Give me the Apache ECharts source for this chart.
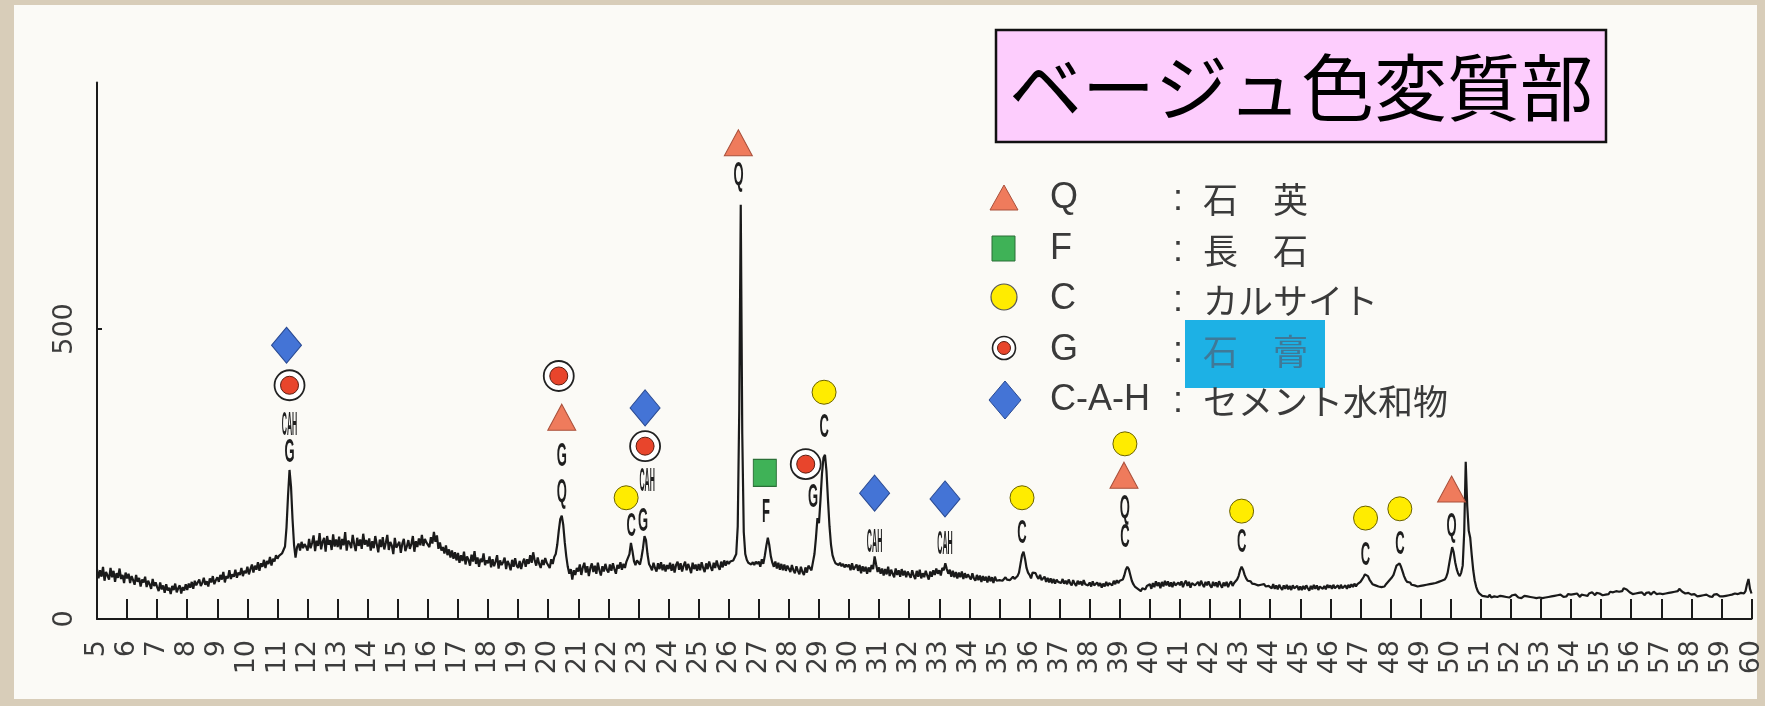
<!DOCTYPE html>
<html>
<head>
<meta charset="utf-8">
<script src="https://cdn.jsdelivr.net/npm/echarts@6/dist/echarts.min.js"></script>
<style>
  html, body { margin: 0; padding: 0; background: #d8cdb9; }
  #chart { width: 1765px; height: 706px; }
</style>
</head>
<body>
<div id="chart"></div>
<script>
// XRD pattern, beige altered part. Scan from 5 to 60 deg 2-theta, 0.05 deg step.
const SCAN_START = 5;
const SCAN_STEP = 0.05;

// Counts, one row per degree (20 readings each), last value at 60 deg.
const intensity = [
  86,70,84,73,90,66,81,75,68,88,72,83,64,79,71,87,69,76,62,80,
  70,78,62,74,67,59,76,64,71,56,68,63,73,55,66,60,52,69,57,63,
  55,48,63,51,58,45,60,49,54,43,57,50,61,46,53,58,44,55,49,60,
  50,61,54,64,52,66,58,55,68,57,62,71,59,65,56,70,63,74,60,67,
  72,64,76,68,81,63,74,70,84,69,77,73,85,71,80,76,88,74,83,79,
  90,77,86,94,80,92,85,98,83,96,90,102,88,100,95,107,92,104,99,110,
  104,109,107,113,111,125,158,212,257,228,172,128,106,124,130,118,133,122,129,125,
  118,138,122,131,144,117,135,126,148,120,133,140,116,143,128,136,119,146,125,137,
  124,142,120,138,127,150,118,135,131,122,145,129,117,140,126,137,121,147,128,136,
  125,139,118,134,122,143,129,115,137,124,141,120,131,145,119,133,127,112,140,123,
  120,133,114,130,138,117,125,136,121,129,143,116,134,124,139,127,145,126,138,132,
  135,124,141,130,150,133,144,121,132,118,124,113,127,110,120,106,118,104,115,101,
  114,97,110,100,116,94,108,102,92,111,99,117,95,106,90,104,98,113,93,101,
  96,108,89,103,91,99,110,87,101,93,98,106,86,100,94,84,102,90,105,92,
  88,100,86,97,104,90,103,95,110,97,115,101,92,106,95,88,102,93,105,97,
  96,88,103,95,107,112,128,152,172,178,162,132,108,90,78,86,68,84,76,88,
  82,94,76,89,97,80,91,74,88,96,81,92,78,97,84,75,91,82,95,85,
  80,94,83,96,86,78,93,87,98,85,95,88,99,102,112,131,117,100,93,101,
  102,94,106,122,143,136,112,95,90,84,97,88,82,96,86,98,84,94,82,93,
  86,97,83,95,80,93,99,85,96,82,92,99,84,95,88,79,97,86,94,83,
  95,84,98,88,81,96,86,99,90,83,97,88,101,91,85,99,89,101,92,100,
  95,99,96,101,104,112,160,360,714,320,150,112,102,97,100,94,98,93,99,95,
  99,90,103,95,109,126,140,127,108,97,90,99,87,97,85,95,84,94,83,92,
  90,81,93,84,79,91,83,77,90,81,76,89,80,92,95,84,98,112,140,174,
  165,205,250,278,283,255,205,160,128,110,102,96,99,93,97,91,95,89,94,90,
  94,84,96,85,82,94,83,93,79,91,82,90,78,89,81,93,86,108,94,81,
  89,78,87,75,86,77,90,74,85,78,72,87,76,84,73,86,75,83,72,82,
  81,71,84,75,69,83,73,85,70,79,72,83,75,68,82,73,84,76,87,78,
  84,75,88,84,96,86,78,85,73,83,72,81,70,80,72,82,69,79,71,77,
  77,68,79,70,66,76,67,75,64,74,66,73,63,74,65,72,62,73,66,69,
  67,70,66,69,72,68,71,67,70,73,69,72,74,80,95,110,116,104,88,80,
  76,70,80,82,79,73,69,76,67,70,73,64,71,63,70,62,69,61,68,64,
  67,62,69,61,66,60,68,62,58,67,61,57,66,60,65,58,67,60,63,58,
  63,56,65,58,55,63,57,62,54,61,56,64,57,62,65,58,66,60,67,62,
  66,64,68,75,85,90,86,76,66,60,56,58,52,55,48,53,56,51,57,55,
  60,52,62,55,65,57,63,53,64,56,66,58,65,56,63,55,64,58,56,63,
  58,65,55,62,66,57,64,54,62,65,58,55,64,57,66,60,55,64,58,65,
  58,54,64,57,63,55,65,59,54,63,57,64,55,61,65,57,62,64,68,74,
  84,90,85,76,70,66,63,65,61,64,60,62,58,61,59,57,60,56,59,57,
  59,53,60,52,58,51,59,54,50,58,52,59,51,57,50,58,53,52,57,50,
  56,50,57,51,58,53,49,57,51,59,52,58,50,56,59,52,57,51,59,54,
  58,52,59,53,51,58,52,59,53,51,58,52,59,54,60,55,61,56,60,62,
  64,68,72,77,78,74,68,64,60,62,58,60,56,59,55,58,56,60,62,66,
  68,72,76,84,92,95,96,90,82,74,68,64,61,63,59,62,58,60,56,59,
  57,55,58,56,59,57,60,58,61,59,62,60,64,62,66,65,68,72,80,95,
  110,124,115,98,86,78,74,80,92,150,271,195,152,140,110,84,66,55,48,44,
  42,40,43,39,41,38,42,37,40,39,41,38,36,40,37,39,41,38,40,37,
  39,41,38,42,40,37,39,36,38,40,37,39,36,38,35,37,39,36,38,37,
  38,36,39,37,35,38,36,39,37,40,38,41,39,42,40,38,41,39,43,40,
  42,39,43,40,44,41,38,42,45,41,43,40,44,42,46,43,41,45,42,44,
  43,41,44,42,45,43,47,44,46,43,48,45,47,50,48,53,56,51,48,46,
  45,43,46,44,42,45,43,46,44,41,45,43,46,42,44,47,45,43,46,44,
  45,43,46,44,47,45,48,46,49,47,50,48,52,49,47,45,44,42,45,43,
  42,40,43,41,39,42,40,43,41,38,42,40,39,41,38,42,40,43,41,39,
  41,39,42,40,43,41,39,42,40,44,41,43,40,45,42,44,48,60,69,52,
  44
];

// Phase markers above the peaks: [2theta, counts]
const quartzMarks   = [[20.45, 348], [26.32, 821], [39.14, 248], [50.03, 224]];
const feldsparMarks = [[27.20, 252]];
const calciteMarks  = [[22.59, 209], [29.17, 391], [35.75, 209], [39.17, 302],
                       [43.05, 186], [47.17, 174], [48.31, 190]];
const gypsumMarks   = [[11.40, 403], [20.35, 419], [23.22, 298], [28.56, 267]];
const cahMarks      = [[11.30, 472], [23.22, 364], [30.85, 217], [33.19, 207]];

// Peak letters printed under the markers: [2theta, counts, text]
const peakLetters = [
  [11.40, 333, 'CAH'], [11.40, 286, 'G'],
  [20.45, 279, 'G'], [20.45, 217, 'Q'],
  [22.76, 159, 'C'], [23.15, 167, 'G'], [23.29, 236, 'CAH'],
  [26.33, 764, 'Q'], [27.24, 183, 'F'],
  [28.80, 209, 'G'], [29.17, 329, 'C'],
  [30.85, 131, 'CAH'], [33.19, 128, 'CAH'], [35.75, 147, 'C'],
  [39.17, 190, 'Q'], [39.17, 140, 'C'],
  [43.05, 131, 'C'], [47.17, 109, 'C'], [48.31, 128, 'C'], [50.03, 159, 'Q']
];

// Legend rows
const legendCodes = ['Q', 'F', 'C', 'G', 'C-A-H'];
const legendNames = ['石　英', '長　石', 'カルサイト', '石　膏', 'セメント水和物'];
const titleText = 'ベージュ色変質部';

const yTickValues = [0, 500];

const COL = {
  quartz: '#ef7b5c', quartzEdge: '#a9503b',
  feldspar: '#3fb257', feldsparEdge: '#2a6f37',
  calcite: '#ffec00', calciteEdge: '#6b6200',
  gypsum: '#e8452c', gypsumEdge: '#5a1c10',
  cah: '#4474d6', cahEdge: '#2a4a92',
  ink: '#1a1a1a', text: '#3a3a3a'
};

const traceData = intensity.map((c, i) => [+(SCAN_START + i * SCAN_STEP).toFixed(2), c]);

function markerSeries(data, symbol, size, fill, edge, edgeWidth) {
  return {
    type: 'scatter', data, symbol, symbolSize: size, silent: true, z: 6,
    itemStyle: { color: fill, borderColor: edge, borderWidth: edgeWidth, opacity: 1 }
  };
}

// Legend drawn as static shapes and text
const LX = 1004, LY = [198, 249, 299, 350, 400];
const legendShapes = [
  { type: 'polygon', shape: { points: [[LX - 14, LY[0] + 12], [LX + 14, LY[0] + 12], [LX, LY[0] - 13]] },
    style: { fill: COL.quartz, stroke: COL.quartzEdge, lineWidth: 1 } },
  { type: 'rect', shape: { x: LX - 12, y: LY[1] - 13, width: 23, height: 25 },
    style: { fill: COL.feldspar, stroke: COL.feldsparEdge, lineWidth: 1 } },
  { type: 'circle', shape: { cx: LX, cy: LY[2] - 2, r: 13 },
    style: { fill: COL.calcite, stroke: '#555', lineWidth: 1.2 } },
  { type: 'circle', shape: { cx: LX, cy: LY[3] - 2, r: 11.5 },
    style: { fill: '#fff', stroke: '#222', lineWidth: 1.6 } },
  { type: 'circle', shape: { cx: LX, cy: LY[3] - 2, r: 6.5 },
    style: { fill: COL.gypsum, stroke: COL.gypsumEdge, lineWidth: 1 } },
  { type: 'polygon', shape: { points: [[LX + 1, LY[4] - 19], [LX + 17, LY[4]], [LX + 1, LY[4] + 19], [LX - 15, LY[4]]] },
    style: { fill: COL.cah, stroke: COL.cahEdge, lineWidth: 1 } }
];
const legendTexts = [];
legendCodes.forEach((code, i) => {
  legendTexts.push({ type: 'text', x: 1050, y: LY[i],
    style: { text: code, font: '36px "Liberation Sans"', fill: COL.text, align: 'left', verticalAlign: 'middle' } });
  legendTexts.push({ type: 'text', x: 1178, y: LY[i] + 2,
    style: { text: ':', font: '36px "Liberation Sans"', fill: COL.text, align: 'center', verticalAlign: 'middle' } });
});
const legendHighlight = { type: 'rect', shape: { x: 1185, y: 320, width: 140, height: 68 },
  style: { fill: '#1db1e5' } };
legendNames.forEach((name, i) => {
  legendTexts.push({ type: 'text', x: 1203, y: LY[i] + 2,
    style: { text: name, font: '35px "Noto Sans CJK JP"', fill: i === 3 ? '#3f7998' : COL.text,
             align: 'left', verticalAlign: 'middle' }, z: 3 });
});

const chart = echarts.init(document.getElementById('chart'), null, { renderer: 'canvas' });

chart.setOption({
  animation: false,
  backgroundColor: 'transparent',
  grid: { left: 97, right: 12, top: 82.5, bottom: 87, containLabel: false },
  xAxis: {
    type: 'value', min: 5, max: 60, interval: 1,
    axisLine: { show: true, onZero: false, lineStyle: { color: COL.ink, width: 2 } },
    axisTick: { show: true, inside: true, length: 20, lineStyle: { color: COL.ink, width: 2 } },
    axisLabel: { rotate: 90, margin: 21, fontSize: 27, fontFamily: 'DejaVu Sans', color: '#3c3c3c',
                 padding: [0, 0, 18, 0], showMinLabel: true, showMaxLabel: true },
    splitLine: { show: false }
  },
  yAxis: {
    type: 'value', min: 0, max: 925,
    axisLine: { show: true, lineStyle: { color: COL.ink, width: 2 } },
    axisTick: { show: true, inside: true, length: 5, customValues: [500], lineStyle: { color: COL.ink, width: 2 } },
    axisLabel: { customValues: yTickValues, rotate: 90, margin: 19, fontSize: 27, fontFamily: 'DejaVu Sans', color: '#3c3c3c' },
    splitLine: { show: false }
  },
  series: [
    {
      type: 'line', data: traceData, showSymbol: false, silent: true, z: 3,
      lineStyle: { color: COL.ink, width: 2.2 }
    },
    markerSeries(cahMarks, 'diamond', [30, 36], COL.cah, COL.cahEdge, 1),
    markerSeries(gypsumMarks, 'circle', 30, '#fff', '#222', 1.8),
    markerSeries(gypsumMarks, 'circle', 18, COL.gypsum, COL.gypsumEdge, 1),
    markerSeries(quartzMarks, 'triangle', [28, 26], COL.quartz, COL.quartzEdge, 1),
    markerSeries(feldsparMarks, 'rect', [23, 27], COL.feldspar, COL.feldsparEdge, 1),
    markerSeries(calciteMarks, 'circle', 24, COL.calcite, COL.calciteEdge, 1),
    {
      type: 'custom', silent: true, z: 7,
      data: peakLetters.map(d => [d[0], d[1]]),
      renderItem: (params, api) => {
        const p = api.coord([api.value(0), api.value(1)]);
        const txt = peakLetters[params.dataIndex][2];
        const wide = txt.length > 1;
        return {
          type: 'text', x: p[0], y: p[1],
          scaleX: wide ? 0.55 : 1, scaleY: 2.5,
          style: { text: txt, font: 'bold 13px "Liberation Sans"', fill: '#1e1e1e',
                   align: 'center', verticalAlign: 'middle' }
        };
      }
    }
  ],
  graphic: [
    { type: 'rect', z: -10, shape: { x: 14, y: 5, width: 1743, height: 694 },
      style: { fill: '#fbfaf6' } },
    { type: 'group', z: 10, children: [
      { type: 'rect', shape: { x: 996, y: 30, width: 610, height: 112 },
        style: { fill: '#fdcdfd', stroke: '#111', lineWidth: 2.5 } },
      { type: 'text', x: 1301, y: 87,
        style: { text: titleText, font: '73px "Noto Sans CJK JP"', fill: '#000', align: 'center', verticalAlign: 'middle' } }
    ] },
    { type: 'group', z: 10, children: legendShapes.concat([legendHighlight], legendTexts) }
  ]
});
</script>
</body>
</html>
